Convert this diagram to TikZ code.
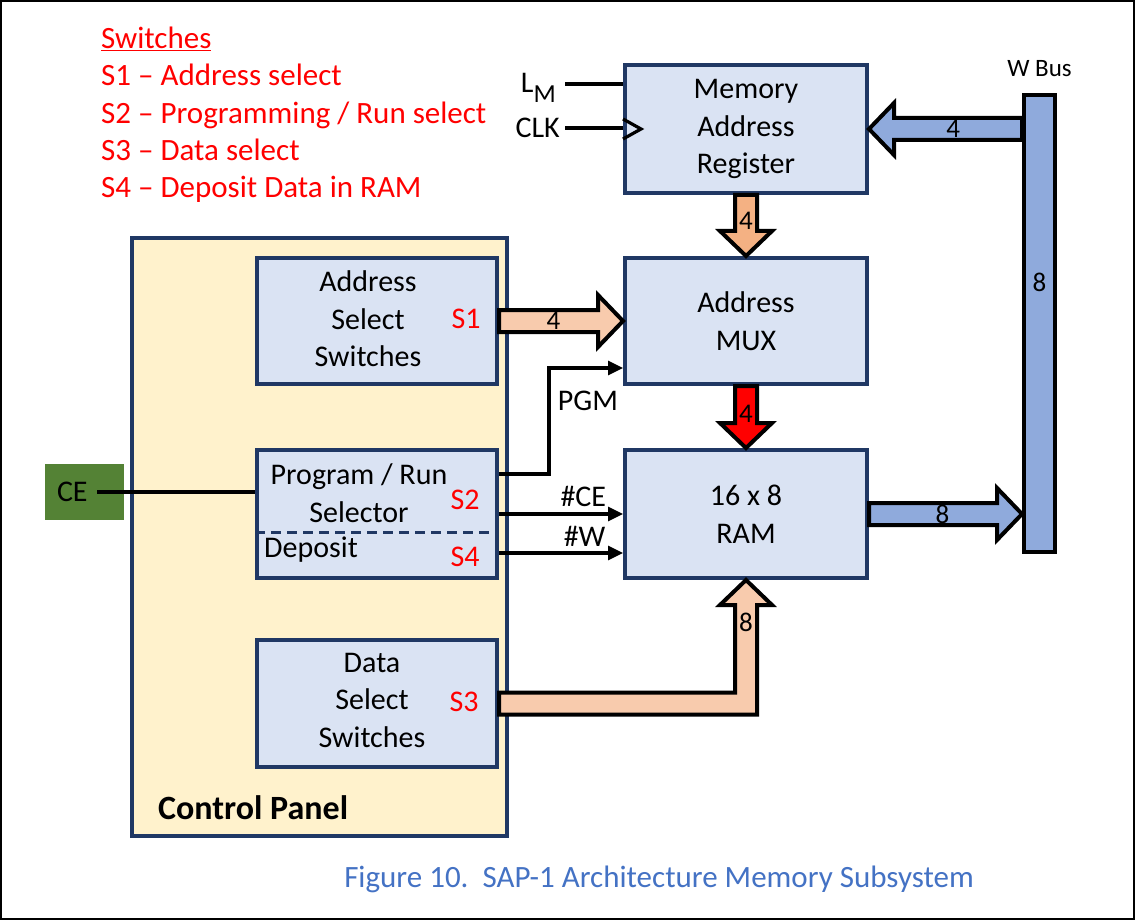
\documentclass[tikz,border=0pt]{standalone}
\usepackage{fontspec}
\setmainfont{Carlito}
\usetikzlibrary{arrows.meta, positioning, calc}

\definecolor{navy}{HTML}{203864}
\definecolor{boxblue}{HTML}{DAE3F3}
\definecolor{panelyel}{HTML}{FFF2CC}
\definecolor{peach}{HTML}{F8CBAD}
\definecolor{darkpeach}{HTML}{F4B183}
\definecolor{busblue}{HTML}{8FAADC}
\definecolor{cegreen}{HTML}{548235}
\definecolor{capblue}{HTML}{4472C4}

% fat bus arrow sizes
\def\bshaft{11pt} % half shaft width
\def\bhead{26pt}  % half head width
\def\blen{25pt}   % head length

% fat bus arrow: #1 start, #2 tip, #3 style
\newcommand{\busarrow}[3]{%
  \coordinate (hb) at ($(#2)!\blen!(#1)$);
  \draw[#3] ($(#1)!\bshaft!90:(#2)$) -- ($(hb)!\bshaft!90:(#2)$) -- ($(hb)!\bhead!90:(#2)$)
    -- (#2) -- ($(hb)!\bhead!-90:(#2)$) -- ($(hb)!\bshaft!-90:(#2)$) -- ($(#1)!\bshaft!-90:(#2)$) -- cycle;
}

\begin{document}
\begin{tikzpicture}[x=1pt, y=1pt,
    box/.style={draw=navy, line width=4pt, fill=boxblue, minimum width=242, minimum height=128, align=center, inner sep=0pt, font=\fontsize{30}{37.5}\selectfont},
    sbox/.style={box, minimum width=240},
    txt/.style={font=\fontsize{30}{37.5}\selectfont, align=center, inner sep=0pt},
    swlbl/.style={txt, text=red},
    digit/.style={font=\fontsize{27}{27}\selectfont, inner sep=0pt},
    bus/.style={draw=black, line width=4pt, line join=miter, fill=#1},
    wire/.style={line width=3.2pt},
    sig/.style={wire, -{Triangle[length=15pt, width=14pt]}}
]
\useasboundingbox (0,0) rectangle (1135,-920);
\draw[line width=2pt] (1,-1) rectangle (1134,-919);

% --- Legend ---
\node[anchor=west, align=left, text=red, font=\fontsize{31}{37.3}\selectfont, inner sep=0pt] (legend) at (101,-115)
  {\underline{Switches}\\S1 -- Address select\\S2 -- Programming / Run select\\S3 -- Data select\\S4 -- Deposit Data in RAM};

% --- Control panel ---
\node[draw=navy, line width=4pt, fill=panelyel, minimum width=375, minimum height=598] (panel) at (319.5,-537) {};
\node[anchor=west, font=\fontsize{34}{34}\selectfont\bfseries, inner sep=0pt] at (158,-808) {Control Panel};

\node[sbox, minimum height=126] (asel) at (377,-321) {};
\node[txt] at (368,-319) {Address\\Select\\Switches};
\node[swlbl] at (466,-319) {S1};

\node[sbox] (prs) at (377,-514) {};
\draw[navy, line width=3pt, dash pattern=on 10pt off 6pt] ([yshift=-18pt]prs.west) -- ([yshift=-18pt]prs.east);
\node[txt] at (359,-493) {Program / Run\\Selector};
\node[txt, anchor=west] at (264,-550) {Deposit};
\node[swlbl] at (465,-500) {S2};
\node[swlbl] at (465,-557) {S4};

\node[sbox, minimum height=127] (dsel) at (377,-703.5) {};
\node[txt] at (372,-700) {Data\\Select\\Switches};
\node[swlbl] at (464,-702) {S3};

% --- CE input ---
\node[fill=cegreen, minimum height=56, text width=55, inner xsep=12pt, align=left, font=\fontsize{30}{30}\selectfont] (ce) at (84.5,-492) {CE};
\draw[wire] ([xshift=-27pt]ce.east) -- (ce.east -| prs.west);

% --- Memory blocks ---
\node[box] (mar) at (746,-129) {Memory\\Address\\Register};
\node[box, minimum height=126] (mux) at (746,-321) {Address\\MUX};
\node[box] (ram) at (746,-514) {16 x 8\\RAM};

% --- W bus ---
\node[draw=black, line width=4pt, fill=busblue, minimum width=31, minimum height=457] (wbus) at (1039.5,-323.5) {};
\node[digit] at ($(wbus.north)!0.41!(wbus.south)$) {8};
\node[font=\fontsize{25}{25}\selectfont, inner sep=0pt, above=16pt of wbus] {W Bus};

% --- LM and CLK ---
\node[txt, anchor=east] (lm) at (556,-88) {L\raisebox{-10pt}{\fontsize{26}{26}\selectfont M}};
\node[txt, anchor=east] (clk) at (560,-128) {CLK};
\coordinate (lmin) at ([yshift=45pt]mar.west);
\draw[wire] ($(lm.east |- lmin)+(9,0)$) -- (lmin);
\draw[wire] ($(clk.east)+(5,0)$) -- (clk.east -| mar.west);
\draw[wire, line join=miter] ($(mar.west)+(0,10)$) -- ($(mar.west)+(18,0)$) -- ($(mar.west)+(0,-10)$);

% --- Control signals ---
\coordinate (pgmin) at ([yshift=-47pt]mux.west);
\draw[sig] ([yshift=40pt]prs.east) -| ($(pgmin)+(-74,0)$) -- (pgmin);
\node[txt] at (588,-401) {PGM};
\draw[sig] (prs.east) -- node[txt, pos=0.68, above=6pt] {\#CE} (prs.east -| ram.west);
\coordinate (wout) at ([yshift=-39pt]prs.east);
\draw[sig] (wout) -- node[txt, pos=0.69, above=5pt] {\#W} (wout -| ram.west);

% --- Bus arrows ---
\busarrow{mar.south}{mux.north}{bus=darkpeach}
\path (mar.south) -- node[digit, pos=0.42] {4} (mux.north);
\busarrow{mux.south}{ram.north}{bus=red}
\path (mux.south) -- node[digit, pos=0.45] {4} (ram.north);
\busarrow{asel.east}{mux.west}{bus=peach}
\path (asel.east) -- node[digit, pos=0.44] {4} (mux.west);

\coordinate (wb1) at (wbus.west |- mar.east);
\busarrow{wb1}{mar.east}{bus=busblue}
\path (wb1) -- node[digit, pos=0.45] {4} (mar.east);
\coordinate (wb2) at (wbus.west |- ram.east);
\busarrow{ram.east}{wb2}{bus=busblue}
\path (ram.east) -- node[digit, pos=0.48] {8} (wb2);

% S3 data bus, bent up into RAM
\coordinate (s3c) at (ram.south |- dsel.east);
\coordinate (s3h) at ($(ram.south)+(0,-\blen)$);
\draw[bus=peach] ($(dsel.east)+(0,\bshaft)$) -- ($(s3c)+(-\bshaft,\bshaft)$) -- ($(s3h)+(-\bshaft,0)$) -- ($(s3h)+(-\bhead,0)$)
  -- (ram.south) -- ($(s3h)+(\bhead,0)$) -- ($(s3h)+(\bshaft,0)$) -- ($(s3c)+(\bshaft,-\bshaft)$) -- ($(dsel.east)+(0,-\bshaft)$) -- cycle;
\node[digit] at ($(s3h)+(0,-17)$) {8};

% --- Caption ---
\node[font=\fontsize{31}{31}\selectfont, text=capblue, inner sep=0pt] at (659,-879) {Figure 10.~~SAP-1 Architecture Memory Subsystem};

\end{tikzpicture}
\end{document}
